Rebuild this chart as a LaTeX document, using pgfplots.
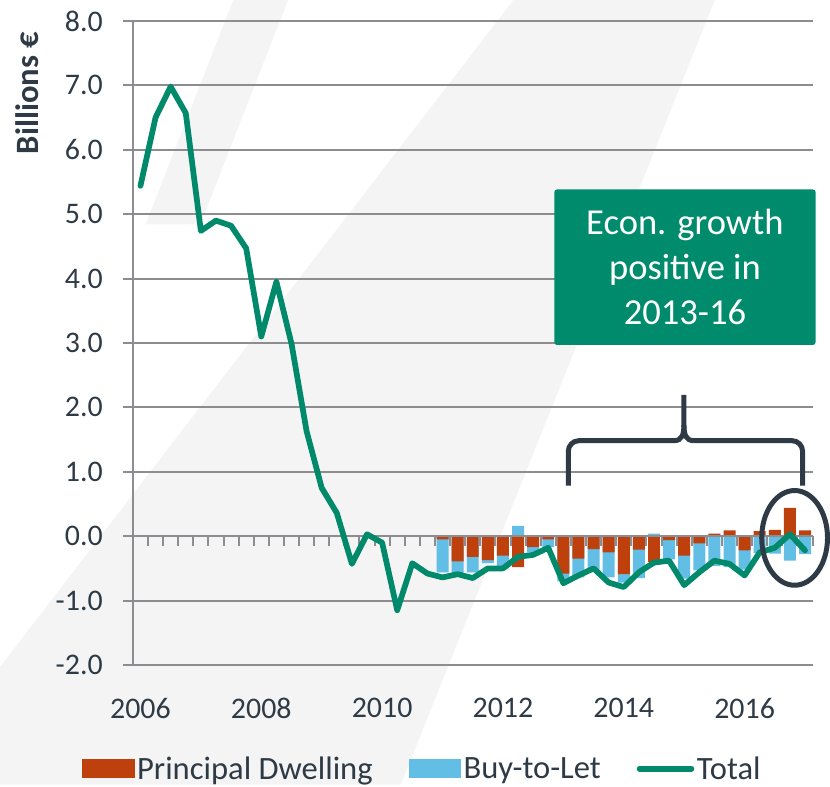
\documentclass[border=0pt]{standalone}
\usepackage{fontspec}
\setmainfont{Carlito}
\usepackage{pgfplots}
\pgfplotsset{compat=1.18}
\usepackage{pgfplotstable}
\definecolor{pdc}{RGB}{190,64,12}
\definecolor{btlc}{RGB}{99,190,230}
\definecolor{totc}{RGB}{0,137,106}
\definecolor{boxc}{RGB}{0,140,108}
\definecolor{darkc}{RGB}{46,58,69}
\definecolor{gridc}{RGB}{140,140,145}
\definecolor{wmc}{RGB}{244,244,244}

\pgfplotstableread{
i total
0 5.44
1 6.50
2 6.98
3 6.57
4 4.74
5 4.90
6 4.82
7 4.47
8 3.10
9 3.95
10 2.99
11 1.63
12 0.75
13 0.36
14 -0.43
15 0.03
16 -0.10
17 -1.15
18 -0.42
19 -0.58
20 -0.64
21 -0.59
22 -0.65
23 -0.50
24 -0.50
25 -0.32
26 -0.29
27 -0.18
28 -0.73
29 -0.61
30 -0.50
31 -0.72
32 -0.79
33 -0.56
34 -0.41
35 -0.38
36 -0.76
37 -0.56
38 -0.38
39 -0.43
40 -0.61
41 -0.25
42 -0.18
43 0.03
44 -0.22
}\totaltable

\pgfplotstableread{
i pd btl
20 -0.05 -0.51
21 -0.39 -0.19
22 -0.32 -0.24
23 -0.37 -0.05
24 -0.30 -0.20
25 -0.48 0.16
26 -0.17 -0.08
27 -0.05 -0.12
28 -0.58 -0.12
29 -0.35 -0.29
30 -0.20 -0.35
31 -0.25 -0.39
32 -0.59 -0.13
33 -0.21 -0.44
34 -0.40 0.04
35 -0.06 -0.30
36 -0.30 -0.36
37 -0.11 -0.42
38 0.04 -0.46
39 0.09 -0.48
40 -0.22 -0.30
41 0.08 -0.26
42 0.10 -0.27
43 0.44 -0.38
44 0.09 -0.28
}\bartable

\begin{document}
\begin{tikzpicture}
\begin{scope}[shift={(-99.975pt,500.25pt)}, x=0.75pt, y=-0.75pt]
\path[use as bounding box] (0,0) rectangle (830,787);
\fill[wmc] (515,0) -- (717,0) -- (402,787) -- (0,787) -- (0,669) -- cycle;
\fill[wmc] (234,0) -- (289,0) -- (201,225) -- (146,225) -- cycle;
\end{scope}
\begin{axis}[
  at={(0pt,0pt)}, anchor=south west,
  scale only axis, width=511.3pt, height=484.5pt,
  xmin=-0.5, xmax=44.5, ymin=-2, ymax=8,
  axis lines*=left,
  axis line style={gridc, line width=1.5pt},
  xtick={0,8,16,24,32,40},
  xticklabels={2006,2008,2010,2012,2014,2016},
  ytick={-2,-1,0,1,2,3,4,5,6,7,8},
  yticklabels={-2.0,-1.0,0.0,1.0,2.0,3.0,4.0,5.0,6.0,7.0,8.0},
  xtick style={draw=none},
  ytick style={gridc, line width=1.5pt},
  tick align=outside,
  major tick length=7.5pt,
  ymajorgrids,
  grid style={gridc, line width=1.5pt},
  tick label style={font=\fontsize{22.5}{27}\selectfont, text=darkc},
  yticklabel style={anchor=east, inner sep=0pt, xshift=-15pt},
  xticklabel style={anchor=north, inner sep=0pt, yshift=-17pt},
  legend columns=3,
  legend cell align=left,
  legend style={at={(axis description cs:-0.0811,-0.161)}, anchor=west,
    draw=none, fill=none, font=\fontsize{24.5}{29}\selectfont, text=darkc,
    column sep=0pt, nodes={inner sep=2pt},
    /tikz/every even column/.append style={column sep=25pt}},
  clip=false,
]
\addlegendimage{legend image code/.code={\fill[pdc] (0pt,-6.75pt) rectangle (39pt,6.75pt);}}
\addlegendentry{Principal Dwelling}
\addlegendimage{legend image code/.code={\fill[btlc] (0pt,-6.75pt) rectangle (39pt,6.75pt);}}
\addlegendentry{Buy-to-Let}
\addlegendimage{legend image code/.code={\draw[totc, line width=4.3pt, line cap=round] (1pt,0pt) -- (40pt,0pt);}}
\addlegendentry{Total}

\addplot[ybar, bar width=9pt, bar shift=0pt, fill=btlc, draw=none, forget plot]
  table[x=i, y expr={(\thisrow{pd}*\thisrow{btl} > 0) ? (\thisrow{pd}+\thisrow{btl}) : \thisrow{btl}}] {\bartable};
\addplot[ybar, bar width=9pt, bar shift=0pt, fill=pdc, draw=none, forget plot]
  table[x=i, y=pd] {\bartable};

\draw[gridc, line width=1.5pt] (axis cs:-0.5,0) -- (axis cs:44.5,0);
\pgfplotsinvokeforeach{0,...,44}{
  \draw[gridc, line width=1.5pt] (axis cs:#1+0.5,0) -- ++(0pt,-7.5pt);
}

\addplot[totc, line width=4.3pt, line join=round, line cap=round, forget plot]
  table[x=i, y=total] {\totaltable};
\end{axis}

\begin{scope}[shift={(-99.975pt,500.25pt)}, x=0.75pt, y=-0.75pt]
\node[fill=boxc, rounded corners=2pt, minimum width=196.5pt, minimum height=117pt,
  inner sep=0pt, text=white, align=center, font=\fontsize{27.5}{33.75}\selectfont]
  at (687,268) {Econ. growth\\positive in\\2013-16};
\draw[darkc, line width=3.75pt, rounded corners=8pt]
  (570,487) -- (570,442) -- (676,442);
\draw[darkc, line width=3.75pt] (676,442) .. controls (684,442) and (686,436) .. (686,426) -- (686,396);
\draw[darkc, line width=3.75pt, rounded corners=8pt]
  (805,487) -- (805,442) -- (696,442);
\draw[darkc, line width=3.75pt] (696,442) .. controls (688,442) and (686,436) .. (686,426);
\draw[darkc, line width=3.75pt] (797,539.5) ellipse [x radius=33, y radius=47.5];
\node[rotate=90, anchor=east, inner sep=0pt, font=\bfseries\fontsize{24.5}{29}\selectfont, text=darkc]
  at (27,32) {Billions €};
\end{scope}
\end{tikzpicture}
\end{document}
